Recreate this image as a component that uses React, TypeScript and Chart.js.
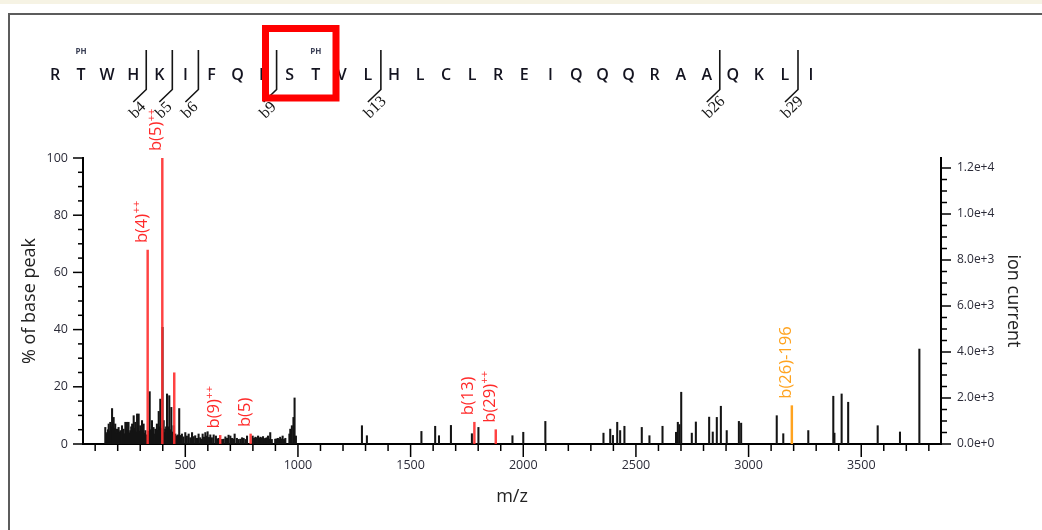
import React, { useEffect, useRef } from 'react';
import { Chart, registerables } from 'chart.js';

Chart.register(...registerables);

// ---------- data ----------
const sequence = ['R', 'T', 'W', 'H', 'K', 'I', 'F', 'Q', 'E', 'S', 'T', 'V', 'L', 'H', 'L', 'C', 'L', 'R', 'E', 'I', 'Q', 'Q', 'Q', 'R', 'A', 'A', 'Q', 'K', 'L', 'I'];
const phosphoSites = [1, 10];
const bIonCleavages = [4, 5, 6, 9, 13, 26, 29];

const peakMz = [
  145, 149, 153, 157, 160, 164, 167, 171, 175, 179, 182, 186, 189, 193, 197, 200, 204, 208, 212, 216,
  219, 223, 226, 230, 234, 237, 241, 245, 248, 252, 256, 260, 264, 268, 271, 275, 278, 282, 286, 290,
  293, 297, 300, 304, 308, 312, 315, 319, 323, 328, 337, 342, 346, 352, 356, 359, 363, 367, 371, 374,
  378, 382, 386, 389, 393, 399, 404, 408, 411, 415, 419, 424, 429, 433, 438, 443, 448, 456, 463, 468,
  473, 478, 485, 492, 500, 507, 515, 522, 530, 537, 544, 552, 559, 566, 574, 577, 583, 589, 594, 599,
  605, 611, 618, 626, 636, 643, 648, 663, 670, 678, 685, 692, 700, 707, 713, 719, 729, 736, 744, 752,
  759, 767, 774, 799, 805, 811, 817, 823, 828, 833, 839, 845, 850, 855, 861, 867, 872, 877, 884, 899,
  905, 911, 916, 921, 926, 932, 938, 944, 962, 966, 973, 980, 985, 991,
  1284, 1306, 1548, 1609, 1626, 1679, 1772, 1801, 1952, 2000, 2098, 2356, 2386, 2398, 2417, 2430, 2449,
  2526, 2560, 2618, 2678, 2686, 2693, 2701, 2748, 2766, 2825, 2841, 2859, 2877, 2903, 2957, 2967, 3125,
  3154, 3265, 3376, 3381, 3413, 3442, 3573, 3672, 3758,
];
const peakPct = [
  5.8, 3.5, 4.0, 5.0, 7.0, 4.5, 7.6, 6.0, 12.4, 6.5, 9.3, 5.5, 7.0, 4.0, 5.2, 3.5, 5.8, 4.2, 4.7, 3.8,
  6.4, 4.5, 5.2, 3.6, 7.6, 5.0, 7.6, 4.8, 7.6, 3.9, 4.7, 6.0, 7.0, 4.4, 9.9, 5.5, 7.6, 4.2, 10.5, 6.0,
  10.5, 4.5, 6.4, 5.0, 8.2, 4.0, 7.0, 3.8, 4.7, 3.2, 4.5, 18.3, 5.0, 8.2, 4.4, 5.8, 3.5, 5.2, 4.0, 7.0,
  4.8, 11.4, 6.0, 15.7, 5.5, 40.8, 8.2, 4.0, 5.2, 6.0, 17.5, 6.0, 16.9, 5.0, 12.8, 4.2, 6.4, 3.5, 2.9, 3.2,
  12.4, 3.0, 3.5, 2.5, 4.0, 2.8, 3.5, 2.2, 4.0, 2.6, 2.9, 2.0, 3.5, 2.2, 1.7, 3.5, 2.4, 4.0, 2.8, 4.3,
  2.3, 3.2, 2.2, 3.2, 2.8, 1.8, 2.0, 1.6, 1.7, 2.5, 2.0, 3.1, 2.8, 2.0, 1.8, 3.5, 2.0, 1.6, 1.7, 2.2,
  2.0, 1.6, 2.8, 2.8, 2.0, 2.4, 2.2, 2.8, 2.0, 2.4, 2.2, 2.6, 1.8, 2.0, 2.2, 2.8, 1.7, 4.0, 1.6, 1.7,
  1.8, 2.0, 1.6, 2.4, 1.8, 2.8, 1.6, 2.0, 3.5, 5.2, 6.4, 9.3, 16.1, 2.8,
  6.4, 2.9, 4.4, 6.2, 2.9, 6.5, 3.6, 5.8, 2.9, 4.1, 7.9, 3.8, 5.2, 3.0, 7.6, 4.7, 6.2,
  5.8, 2.9, 6.2, 4.1, 7.6, 6.8, 18.1, 3.8, 7.7, 9.4, 4.2, 9.3, 13.2, 4.7, 7.9, 7.3, 9.9,
  3.6, 4.7, 16.7, 3.8, 17.5, 14.6, 6.4, 4.2, 33.2,
];

const matchedMz = [333, 398, 451, 655, 790, 1783, 1878];
const matchedPct = [67.8, 100, 24.9, 3.0, 3.5, 7.6, 5.0];
const matchedLabels = ['b(4)', 'b(5)', '', 'b(9)', 'b(5)', 'b(13)', 'b(29)'];
const matchedCharges = ['++', '++', '', '++', '', '', '++'];

const lossMz = [3192];
const lossPct = [13.4];
const lossLabels = ['b(26)-196'];

const xTicks = [500, 1000, 1500, 2000, 2500, 3000, 3500];
const yTicks = [0, 20, 40, 60, 80, 100];
const ionTicks = [0, 2000, 4000, 6000, 8000, 10000, 12000];
const xMinorStep = 100;
const yMinorStep = 5;
const ionMinorStep = 500;
const basePeakIntensity = 12435;
const mzMin = 46;
const mzMax = 3854;

// ---------- styles ----------
const RED = '#ff2a2a';
const ORANGE = '#ffa31f';
const FONT = '"Open Sans", "Noto Sans", sans-serif';
const TICK_COLOR = '#2b2b38';

const decorPlugin = {
  id: 'decor',
  beforeDraw(chart: any) {
    const ctx = chart.ctx as CanvasRenderingContext2D;
    ctx.save();
    ctx.fillStyle = '#ffffff';
    ctx.fillRect(0, 0, chart.width, chart.height);
    ctx.fillStyle = '#f6f3e4';
    ctx.fillRect(0, 0, chart.width, 4);
    ctx.strokeStyle = '#5c5c5c';
    ctx.lineWidth = 2;
    ctx.strokeRect(9, 14, chart.width + 60, chart.height + 60);
    ctx.restore();
  },
  afterDraw(chart: any) {
    const ctx = chart.ctx as CanvasRenderingContext2D;
    const x = chart.scales.x;
    const y = chart.scales.y;
    const y2 = chart.scales.y2;
    const line = (a: number, b: number, c: number, d: number) => {
      ctx.beginPath();
      ctx.moveTo(a, b);
      ctx.lineTo(c, d);
      ctx.stroke();
    };
    ctx.save();

    // tick marks (major + minor)
    ctx.strokeStyle = '#000';
    ctx.lineWidth = 1.5;
    const base = y.getPixelForValue(0);
    for (let v = xMinorStep; v <= x.max; v += xMinorStep) {
      const p = x.getPixelForValue(v);
      line(p, base, p, base + (xTicks.includes(v) ? 13 : 7));
    }
    for (let v = 0; v <= y.max + 1e-6; v += yMinorStep) {
      const p = y.getPixelForValue(v);
      line(x.left, p, x.left - (yTicks.includes(v) ? 10 : 5), p);
    }
    for (let v = 0; v <= y2.max; v += ionMinorStep) {
      const p = y2.getPixelForValue(v);
      line(x.right, p, x.right + (ionTicks.includes(v) ? 10 : 6), p);
    }

    // peptide sequence
    const seqX0 = 55;
    const seqStep = 26.07;
    ctx.fillStyle = '#141420';
    ctx.font = `600 16px ${FONT}`;
    ctx.textAlign = 'center';
    ctx.textBaseline = 'alphabetic';
    sequence.forEach((aa, i) => ctx.fillText(aa, seqX0 + i * seqStep, 80));
    ctx.font = `700 8px ${FONT}`;
    ctx.fillStyle = '#3a3f55';
    phosphoSites.forEach((i) => ctx.fillText('PH', seqX0 + i * seqStep, 54));

    // fragment markers
    ctx.strokeStyle = '#151515';
    ctx.lineWidth = 1.6;
    ctx.fillStyle = '#151515';
    ctx.font = `16px "Liberation Serif", "DejaVu Serif", serif`;
    bIonCleavages.forEach((n) => {
      const x0 = seqX0 + (n - 0.5) * seqStep;
      ctx.beginPath();
      ctx.moveTo(x0, 50);
      ctx.lineTo(x0, 89.5);
      ctx.lineTo(x0 - 13, 102);
      ctx.stroke();
      ctx.save();
      ctx.translate(x0 - 14, 116);
      ctx.rotate(-Math.PI / 4);
      ctx.textAlign = 'left';
      ctx.textBaseline = 'middle';
      ctx.fillText('b' + n, 0, 0);
      ctx.restore();
    });

    // highlight box
    ctx.strokeStyle = '#ff0000';
    ctx.lineWidth = 7;
    ctx.strokeRect(265.5, 28.5, 70.5, 69.5);

    // ion labels
    const drawLabel = (mz: number, pct: number, text: string, sup: string, color: string) => {
      const px = x.getPixelForValue(mz);
      const top = y.getPixelForValue(pct);
      ctx.save();
      ctx.translate(px - 1, top - 7);
      ctx.rotate(-Math.PI / 2);
      ctx.fillStyle = color;
      ctx.textAlign = 'left';
      ctx.textBaseline = 'alphabetic';
      ctx.font = `16.5px ${FONT}`;
      ctx.fillText(text, 0, 0);
      if (sup) {
        const w = ctx.measureText(text).width;
        ctx.font = `11px ${FONT}`;
        ctx.fillText(sup, w + 0.5, -6.5);
      }
      ctx.restore();
    };
    matchedMz.forEach((m, i) => {
      if (matchedLabels[i]) drawLabel(m, matchedPct[i], matchedLabels[i], matchedCharges[i], RED);
    });
    lossMz.forEach((m, i) => drawLabel(m, lossPct[i], lossLabels[i], '', ORANGE));

    ctx.restore();
  },
};

export default function App() {
  const ref = useRef<HTMLCanvasElement | null>(null);

  useEffect(() => {
    document.body.style.margin = '0';
    const canvas = ref.current;
    if (!canvas) return;
    const tickFont = { family: FONT, size: 12.5 };
    const titleFont = { family: FONT, size: 18 };
    const chart = new Chart(canvas, {
      type: 'bar',
      data: {
        datasets: [
          {
            label: 'neutral loss',
            data: lossMz.map((m, i) => ({ x: m, y: lossPct[i] })),
            backgroundColor: ORANGE,
            barThickness: 1.8,
            grouped: false,
            yAxisID: 'y',
          },
          {
            label: 'matched b ions',
            data: matchedMz.map((m, i) => ({ x: m, y: matchedPct[i] })),
            backgroundColor: 'rgba(255,45,45,0.9)',
            barThickness: 1.8,
            grouped: false,
            yAxisID: 'y',
          },
          {
            label: 'peaks',
            data: peakMz.map((m, i) => ({ x: m, y: peakPct[i] })),
            backgroundColor: '#141414',
            barThickness: 1.4,
            grouped: false,
            yAxisID: 'y',
          },
        ],
      } as any,
      options: {
        responsive: false,
        animation: false,
        devicePixelRatio: 1,
        layout: { padding: { top: 158, left: 0, right: 0, bottom: 0 } },
        plugins: { legend: { display: false }, tooltip: { enabled: false } },
        scales: {
          x: {
            type: 'linear',
            min: mzMin,
            max: mzMax,
            offset: false,
            grid: { display: false, drawTicks: false, offset: false },
            border: { display: true, color: '#000', width: 2 },
            afterBuildTicks: (s: any) => {
              s.ticks = xTicks.map((v) => ({ value: v }));
            },
            afterFit: (s: any) => {
              s.height = 86;
            },
            ticks: {
              padding: 14,
              font: tickFont,
              color: TICK_COLOR,
              autoSkip: false,
              maxRotation: 0,
              callback: (v: any) => String(v),
            },
            title: { display: true, text: 'm/z', font: titleFont, color: '#222', padding: { top: 0, bottom: 22 } },
          },
          y: {
            type: 'linear',
            position: 'left',
            min: 0,
            max: 100,
            grid: { display: false, drawTicks: false },
            border: { display: true, color: '#000', width: 2 },
            afterBuildTicks: (s: any) => {
              s.ticks = yTicks.map((v) => ({ value: v }));
            },
            afterFit: (s: any) => {
              s.width = 83;
            },
            ticks: { padding: 15, font: tickFont, color: TICK_COLOR, callback: (v: any) => String(v) },
            title: { display: true, text: '% of base peak', font: titleFont, color: '#222', padding: { top: 19, bottom: 0 } },
          },
          y2: {
            type: 'linear',
            position: 'right',
            min: 0,
            max: basePeakIntensity,
            grid: { display: false, drawTicks: false },
            border: { display: true, color: '#000', width: 2 },
            afterBuildTicks: (s: any) => {
              s.ticks = ionTicks.map((v) => ({ value: v }));
            },
            afterFit: (s: any) => {
              s.width = 101;
            },
            ticks: {
              padding: 16,
              font: { family: FONT, size: 12 },
              color: TICK_COLOR,
              callback: (v: any) => Number(v).toExponential(1),
            },
            title: { display: true, text: 'ion current', font: titleFont, color: '#222', padding: { top: 18, bottom: 0 } },
          },
        },
      } as any,
      plugins: [decorPlugin],
    });
    return () => chart.destroy();
  }, []);

  return (
    <div style={{ position: 'fixed', left: 0, top: 0, width: 1042, height: 530, background: '#fff' }}>
      <canvas ref={ref} width={1042} height={530} style={{ display: 'block' }} />
    </div>
  );
}
